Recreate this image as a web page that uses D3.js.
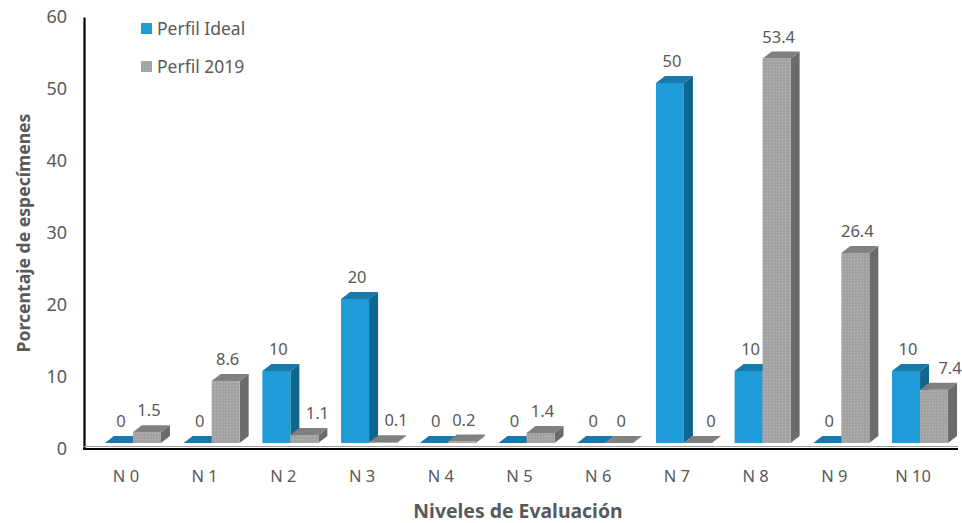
<!DOCTYPE html>
<html><head><meta charset="utf-8">
<script src="https://cdn.jsdelivr.net/npm/d3@7"></script>
<style>body{margin:0;background:#fff}svg{display:block}text{font-family:"Noto Sans",sans-serif}</style>
</head><body><svg id="c" width="962" height="523"></svg>
<script>
const categories = ["N 0","N 1","N 2","N 3","N 4","N 5","N 6","N 7","N 8","N 9","N 10"];
const ideal = [0,0,10,20,0,0,0,50,10,0,10];
const perfil2019 = [1.5,8.6,1.1,0.1,0.2,1.4,0,0,53.4,26.4,7.4];
const seriesNames = ["Perfil Ideal","Perfil 2019"];
const yTicks = [0,10,20,30,40,50,60];

const svg = d3.select("#c");
// subtle stipple texture for the grey series
const defs = svg.append("defs");
const pat = defs.append("pattern").attr("id","stip").attr("patternUnits","userSpaceOnUse").attr("width",3).attr("height",3);
pat.append("rect").attr("width",3).attr("height",3).attr("fill","#A6A6A6");
pat.append("rect").attr("x",0).attr("y",0).attr("width",1).attr("height",1).attr("fill","#9A9A9A");
pat.append("rect").attr("x",2).attr("y",1).attr("width",1).attr("height",1).attr("fill","#B0B0B0");
pat.append("rect").attr("x",1).attr("y",2).attr("width",1).attr("height",1).attr("fill","#9C9C9C");

const x = d3.scaleBand().domain(categories).range([86.6, 952.4]).padding(0);
const y = d3.scaleLinear().domain([0,60]).range([449,17]);
const lift = 6, dx = 9, dy = 7, bw = 28, shift = 7;
const colors = [
  {front:"#1F9BD7", fill:"#1F9BD7", side:"#0F6790", top:"#1679AA"},
  {front:"#A6A6A6", fill:"url(#stip)", side:"#6B6B6B", top:"#808080"}
];
const textCol = "#595959";

// axes
const yAxis = d3.axisLeft(y).tickValues(yTicks).tickSize(0).tickPadding(17);
const gy = svg.append("g").attr("transform","translate(84,0)").call(yAxis);
gy.select(".domain").attr("stroke","#000").attr("stroke-width",2.2);
gy.selectAll("text").attr("font-size",18).attr("fill",textCol);

const xAxis = d3.axisBottom(x).tickSize(0).tickPadding(21);
const gx = svg.append("g").attr("transform","translate(0,449)").call(xAxis);
gx.select(".domain").remove();
gx.selectAll("text").attr("font-size",16.5).attr("fill",textCol);
svg.append("line").attr("x1",84).attr("x2",958).attr("y1",446.5).attr("y2",446.5).attr("stroke","#999").attr("stroke-width",1);
svg.append("line").attr("x1",83).attr("x2",958).attr("y1",449).attr("y2",449).attr("stroke","#000").attr("stroke-width",2.2);

// bars
const series = [ideal, perfil2019];
const bars = [];
categories.forEach((c,i)=>{
  const cx = x(c) + x.bandwidth()/2 + shift;
  series.forEach((vals,s)=>{
    bars.push({c, i, v: vals[i], s, x0: cx - bw + s*bw});
  });
});
const g = svg.append("g");
bars.forEach(b=>{
  const base = y(0) - lift;
  const top = y(b.v) - lift;
  const col = colors[b.s];
  const x0 = b.x0, x1 = b.x0 + bw;
  g.append("path").attr("d",`M${x1},${top}L${x1+dx},${top-dy}L${x1+dx},${base-dy}L${x1},${base}Z`).attr("fill",col.side);
  if (base - top > 0.1) g.append("rect").attr("x",x0).attr("y",top).attr("width",bw).attr("height",base-top).attr("fill",col.fill);
  g.append("path").attr("d",`M${x0},${top}L${x0+dx},${top-dy}L${x1+dx},${top-dy}L${x1},${top}Z`).attr("fill",col.top);
  // grey labels next to a taller blue bar are pushed right, as in the original
  let nudge = 0;
  if (b.s === 1 && ideal[b.i] > b.v) nudge = (b.c === "N 10") ? 14 : 11;
  g.append("text").attr("x",x0+bw/2+2+nudge).attr("y",top-dy-9).attr("text-anchor","middle")
   .attr("font-size",16.5).attr("fill",textCol).text(b.v);
});

// titles
svg.append("text").attr("transform","translate(30,233) rotate(-90)").attr("text-anchor","middle")
  .attr("font-size",17.6).attr("font-weight","bold").attr("fill",textCol).text("Porcentaje de especímenes");
svg.append("text").attr("x",518).attr("y",518).attr("text-anchor","middle")
  .attr("font-size",19.4).attr("font-weight","bold").attr("fill",textCol).text("Niveles de Evaluación");

// legend
const leg = svg.append("g");
seriesNames.forEach((n,i)=>{
  leg.append("rect").attr("x",141).attr("y",23+i*38).attr("width",11).attr("height",11).attr("fill",colors[i].fill);
  leg.append("text").attr("x",157).attr("y",35+i*38).attr("font-size",17.5).attr("fill",textCol).text(n);
});
</script></body></html>
